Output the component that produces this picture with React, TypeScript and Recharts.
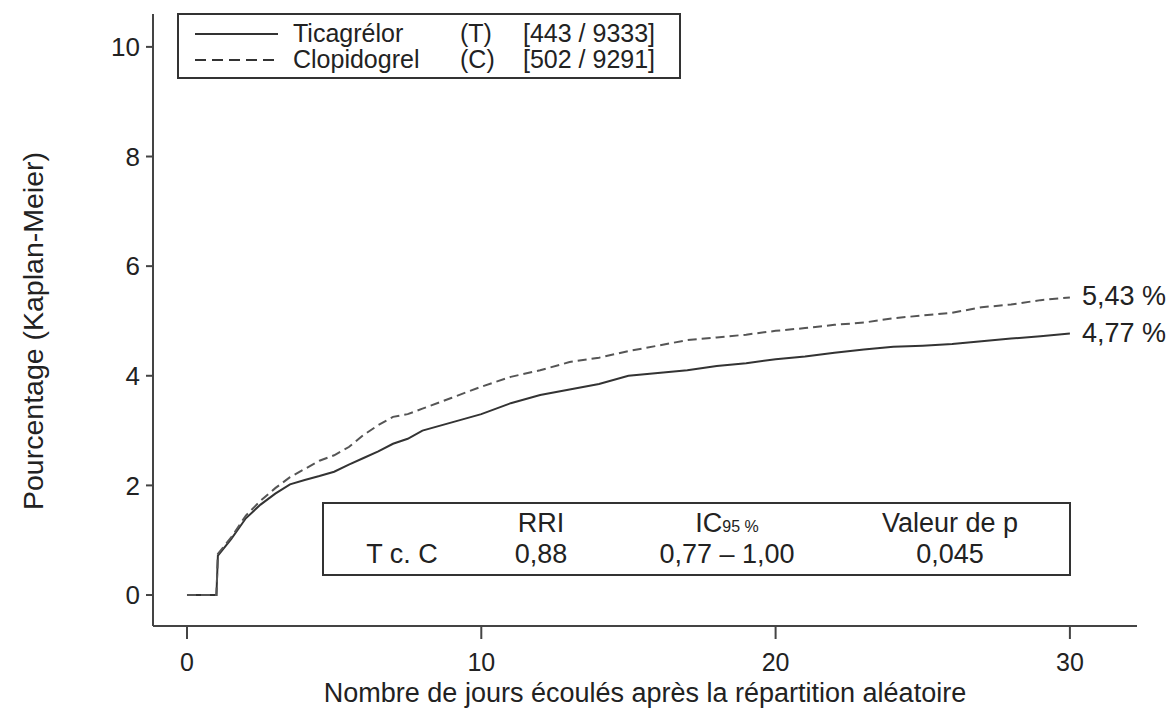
import React from "react";
import { LineChart, Line, XAxis, YAxis, Label } from "recharts";

const days = [0, 1, 1.05, 1.5, 2, 2.5, 3, 3.5, 4, 4.5, 5, 5.5, 6, 6.5, 7, 7.5, 8, 9, 10, 11, 12, 13, 14, 15, 16, 17, 18, 19, 20, 21, 22, 23, 24, 25, 26, 27, 28, 29, 30];
const ticagrelor = [0, 0, 0.72, 1.02, 1.4, 1.65, 1.85, 2.02, 2.1, 2.17, 2.25, 2.38, 2.5, 2.62, 2.76, 2.85, 3.0, 3.15, 3.3, 3.5, 3.65, 3.75, 3.85, 4.0, 4.05, 4.1, 4.18, 4.23, 4.3, 4.35, 4.42, 4.48, 4.53, 4.55, 4.58, 4.63, 4.68, 4.72, 4.77];
const clopidogrel = [0, 0, 0.75, 1.05, 1.45, 1.72, 1.95, 2.15, 2.3, 2.45, 2.55, 2.7, 2.92, 3.1, 3.25, 3.3, 3.4, 3.6, 3.8, 3.98, 4.1, 4.25, 4.33, 4.45, 4.55, 4.65, 4.7, 4.75, 4.82, 4.87, 4.93, 4.97, 5.05, 5.1, 5.15, 5.25, 5.3, 5.38, 5.43];

const xTicks = [0, 10, 20, 30];
const yTicks = [0, 2, 4, 6, 8, 10];
const endLabels = ["4,77 %", "5,43 %"];

const legendRows = [
  { name: "Ticagrélor", code: "(T)", counts: "[443 / 9333]", dash: undefined as string | undefined },
  { name: "Clopidogrel", code: "(C)", counts: "[502 / 9291]", dash: "11 6" },
];
const tableHeader = ["", "RRI", "IC", "Valeur de p"];
const tableRow = ["T c. C", "0,88", "0,77 – 1,00", "0,045"];

const data = days.map((d, i) => ({ day: d, t: ticagrelor[i], c: clopidogrel[i] }));

const FONT = '"Liberation Sans", Arial, Helvetica, sans-serif';
const INK = "#222";
const AXIS = "#444";

const makeEndLabel = (text: string, n: number) => (props: any) => {
  const { x, y, index } = props;
  if (index !== n - 1) return null;
  return (
    <text x={x + 12} y={y + 8} fontSize={27} fontFamily={FONT} fill={INK}>
      {text}
    </text>
  );
};

export default function App() {
  const colX = [402, 541, 727, 950];
  return (
    <div style={{ position: "absolute", left: 0, top: 0, width: 1176, height: 715, background: "#fff" }}>
      <LineChart width={1176} height={715} data={data} margin={{ top: 14, right: 39, left: 0, bottom: 0 }}>
        <XAxis
          dataKey="day"
          type="number"
          domain={[-1.155, 32.28]}
          allowDataOverflow
          ticks={xTicks}
          height={89}
          tickSize={13}
          tickMargin={14}
          axisLine={{ stroke: AXIS, strokeWidth: 2 }}
          tickLine={{ stroke: AXIS, strokeWidth: 2 }}
          tick={{ fontSize: 25, fontFamily: FONT, fill: INK }}
        >
          <Label
            content={(p: any) => {
              const vb = p.viewBox;
              return (
                <text x={vb.x + vb.width / 2} y={702} textAnchor="middle" fontSize={27} fontFamily={FONT} fill={INK}>
                  Nombre de jours écoulés après la répartition aléatoire
                </text>
              );
            }}
          />
        </XAxis>
        <YAxis
          type="number"
          domain={[-0.565, 10.6]}
          allowDataOverflow
          ticks={yTicks}
          width={153}
          tickSize={7}
          tickMargin={6}
          axisLine={{ stroke: AXIS, strokeWidth: 2 }}
          tickLine={{ stroke: AXIS, strokeWidth: 2 }}
          tick={{ fontSize: 26, fontFamily: FONT, fill: INK }}
        >
          <Label
            content={() => (
              <text
                x={0}
                y={0}
                transform="translate(43, 331) rotate(-90)"
                textAnchor="middle"
                fontSize={28.5}
                fontFamily={FONT}
                fill={INK}
              >
                Pourcentage (Kaplan-Meier)
              </text>
            )}
          />
        </YAxis>
        <Line
          dataKey="t"
          type="linear"
          stroke="#333"
          strokeWidth={2}
          dot={false}
          isAnimationActive={false}
          label={makeEndLabel(endLabels[0], data.length)}
        />
        <Line
          dataKey="c"
          type="linear"
          stroke="#555"
          strokeWidth={2}
          strokeDasharray="9 5"
          dot={false}
          isAnimationActive={false}
          label={makeEndLabel(endLabels[1], data.length)}
        />
      </LineChart>
      <svg
        width={1176}
        height={715}
        style={{ position: "absolute", left: 0, top: 0, pointerEvents: "none" }}
      >
        <rect x={178} y={14} width={502} height={64} fill="#fff" stroke="#333" strokeWidth={2} />
        {legendRows.map((r, i) => {
          const base = 42 + i * 26;
          return (
            <g key={r.name}>
              <line x1={195} x2={278} y1={base - 8} y2={base - 8} stroke="#333" strokeWidth={2} strokeDasharray={r.dash} />
              <text x={293} y={base} fontSize={25} fontFamily={FONT} fill={INK}>{r.name}</text>
              <text x={460} y={base} fontSize={25} fontFamily={FONT} fill={INK}>{r.code}</text>
              <text x={523} y={base} fontSize={25} fontFamily={FONT} fill={INK}>{r.counts}</text>
            </g>
          );
        })}
        <rect x={323} y={503} width={747} height={72} fill="#fff" stroke="#333" strokeWidth={2} />
        {tableHeader.map((h, i) =>
          i === 2 ? (
            <text key={i} x={colX[i]} y={532} textAnchor="middle" fontSize={27} fontFamily={FONT} fill={INK}>
              {h}
              <tspan fontSize={16}>95 %</tspan>
            </text>
          ) : (
            <text key={i} x={colX[i]} y={532} textAnchor="middle" fontSize={27} fontFamily={FONT} fill={INK}>
              {h}
            </text>
          )
        )}
        {tableRow.map((v, i) => (
          <text key={i} x={colX[i]} y={563} textAnchor="middle" fontSize={27} fontFamily={FONT} fill={INK}>
            {v}
          </text>
        ))}
      </svg>
    </div>
  );
}
